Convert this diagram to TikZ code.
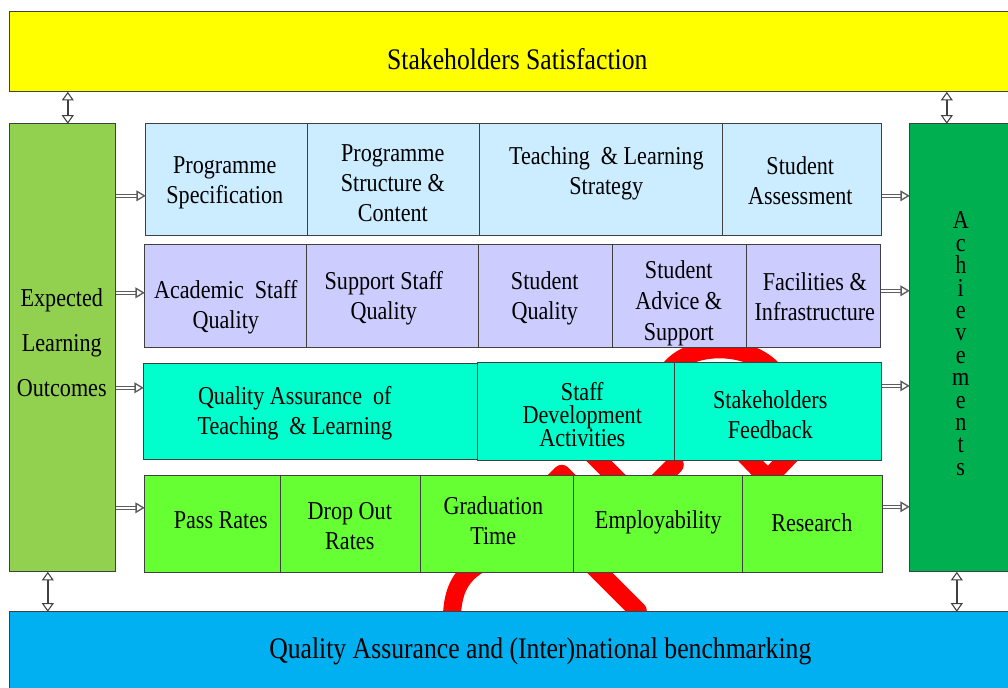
\documentclass[tikz,border=0pt]{standalone}
\usepackage{fontspec}
\setmainfont[FakeStretch=0.86]{Liberation Serif}
\usetikzlibrary{arrows.meta}
\definecolor{cyel}{HTML}{FFFF00}
\definecolor{cblu}{HTML}{00B0F0}
\definecolor{clgr}{HTML}{92D050}
\definecolor{cdgr}{HTML}{00B050}
\definecolor{crow1}{HTML}{CCECFF}
\definecolor{crow2}{HTML}{CCCCFF}
\definecolor{crow3}{HTML}{00FFCC}
\definecolor{crow4}{HTML}{66FF33}
\definecolor{cedge}{HTML}{404040}
\newcommand{\fz}{19.3}
\newcommand{\sk}{30}
\newcommand{\bx}[9]{%
  \pgfmathsetmacro{\bxw}{(#4-#2)*0.75}%
  \pgfmathsetmacro{\bxh}{(#5-#3)*0.75}%
  \node[boxn,fill=#6,minimum width=\bxw pt,minimum height=\bxh pt,
        label={[txt,xshift={(#7)*0.75pt},yshift={-(#8)*0.75pt}]center:{#9}}]
        (#1) at ({(#2+#4)/2},{(#3+#5)/2}) {};}
\tikzset{
  x=0.75pt,y=-0.75pt,
  boxn/.style={draw=cedge,line width=0.85pt,inner sep=0pt,outer sep=0pt,rectangle},
  txt/.style={align=center,inner sep=0pt,text=black,font=\fontsize{\fz}{\dimexpr\sk pt*3/4\relax}\selectfont},
  snake/.style={draw=red,line width=13.5pt,line cap=round,line join=round},
  harrow/.style={draw=cedge!85,double=white,double distance=1.1pt,line width=0.9pt,
     -{Triangle[open,length=7pt,width=8pt,fill=white,line width=1pt]}},
  varrow/.style={draw=cedge,line width=1.8pt,
     {Triangle[open,length=6.5pt,width=9pt,fill=white,line width=0.8pt]}-{Triangle[open,length=6.5pt,width=9pt,fill=white,line width=0.8pt]}}
}
\begin{document}
\begin{tikzpicture}
\useasboundingbox (0.2,0.2) rectangle (1008.2,688.2);
% red curve behind the boxes
\draw[snake,line cap=butt] (668,372) .. controls (688,342) and (750,342) .. (775,372);
\draw[snake] (545,491) -- (562,474) -- (579,491);
\draw[snake] (590,452) -- (625,487);
\draw[snake] (675,465) -- (650,490);
\draw[snake] (745,455) -- (768,479) -- (791,455);
\draw[snake,line cap=butt] (482,563) .. controls (460,575) and (452,592) .. (452,622);
\draw[snake] (590,563) -- (638,611);
% outer bars
\renewcommand{\fz}{22.4}
\bx{sat}{10}{12}{1009}{92}{cyel}{8}{7}{Stakeholders Satisfaction}
\bx{qab}{10}{612}{1009}{690}{cblu}{31}{1}{Quality Assurance and (Inter)national benchmarking}
\renewcommand{\fz}{19.3}
\renewcommand{\sk}{45}
\bx{elo}{10}{124}{116}{572}{clgr}{-1}{-5}{Expected\\Learning\\Outcomes}
\renewcommand{\sk}{22.4}
\bx{ach}{910}{124}{1009}{572}{cdgr}{1.5}{-4}{A\\c\\h\\i\\e\\v\\e\\m\\e\\n\\t\\s}
\renewcommand{\sk}{30}
% row 1
\bx{ps}{146}{124}{308}{236}{crow1}{-2}{3.5}{Programme\\Specification}
\bx{psc}{308}{124}{480}{236}{crow1}{-1}{3}{Programme\\Structure \&\\Content}
\bx{tls}{480}{124}{723}{236}{crow1}{5}{-6.5}{Teaching \ \&\ Learning\\Strategy}
\bx{sa}{723}{124}{882}{236}{crow1}{-2}{1}{Student\\Assessment}
% row 2
\bx{asq}{145}{245}{307}{348}{crow2}{0}{11}{Academic \ Staff\\Quality}
\bx{ssq}{307}{245}{479}{348}{crow2}{-9}{1.5}{Support Staff\\Quality}
\bx{sq}{479}{245}{613}{348}{crow2}{-1}{2.5}{Student\\Quality}
\renewcommand{\sk}{31}
\bx{sas}{613}{245}{747}{348}{crow2}{-1}{7}{Student\\Advice \&\\Support}
\renewcommand{\sk}{30}
\bx{fi}{747}{245}{881}{348}{crow2}{1}{0}{Facilities \&\\Infrastructure}
% row 3
\bx{qat}{144}{364}{478}{460}{crow3}{-16}{1}{Quality Assurance \ of\\Teaching \ \&\ Learning}
\renewcommand{\sk}{22.5}
\bx{sda}{478}{363}{675}{461}{crow3}{6}{3}{Staff\\Development\\Activities}
\renewcommand{\sk}{30}
\bx{shf}{675}{363}{882}{461}{crow3}{-8}{3}{Stakeholders\\Feedback}
% row 4
\bx{pr}{145}{476}{281}{573}{crow4}{8}{-4}{Pass Rates}
\bx{dor}{281}{476}{421}{573}{crow4}{-1}{2}{Drop Out\\Rates}
\bx{gt}{421}{476}{574}{573}{crow4}{-4}{-4}{Graduation\\Time}
\bx{emp}{574}{476}{743}{573}{crow4}{0}{-2}{Employability}
\bx{res}{743}{476}{883}{573}{crow4}{-1}{-2}{Research}
% arrows
\draw[varrow] (sat.south -| 68,0) -- (elo.north -| 68,0);
\draw[varrow] (sat.south -| 947,0) -- (ach.north -| 947,0);
\draw[varrow] (elo.south -| 48,0) -- (qab.north -| 48,0);
\draw[varrow] (ach.south -| 957,0) -- (qab.north -| 957,0);
\draw[harrow] (elo.east |- 0,196) -- (ps.west |- 0,196);
\draw[harrow] (elo.east |- 0,293) -- (asq.west |- 0,293);
\draw[harrow] (elo.east |- 0,388) -- (qat.west |- 0,388);
\draw[harrow] (elo.east |- 0,508) -- (pr.west |- 0,508);
\draw[harrow] (sa.east |- 0,196) -- (ach.west |- 0,196);
\draw[harrow] (fi.east |- 0,291) -- (ach.west |- 0,291);
\draw[harrow] (shf.east |- 0,386) -- (ach.west |- 0,386);
\draw[harrow] (res.east |- 0,507) -- (ach.west |- 0,507);
\end{tikzpicture}
\end{document}
